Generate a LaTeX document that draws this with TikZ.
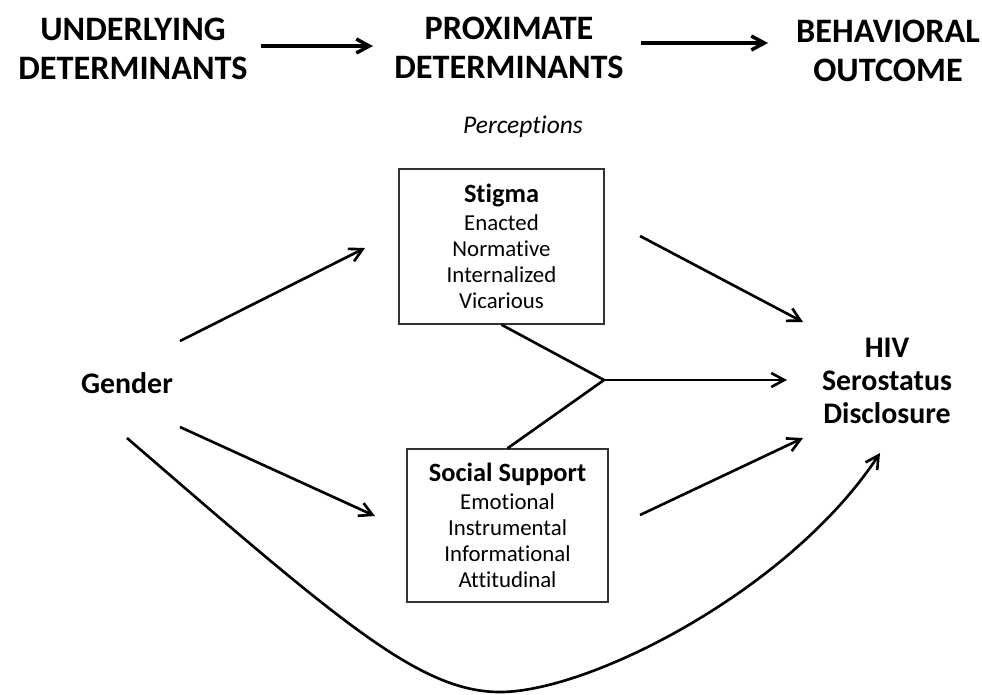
\documentclass[tikz,border=0pt]{standalone}
\usepackage{fontspec}
\setmainfont{Carlito}[Ligatures=NoCommon, Contextuals=NoAlternate]
\usepackage{tikz}
\usetikzlibrary{arrows.meta,positioning}

\begin{document}
\begin{tikzpicture}[
  x=0.02cm, y=-0.02cm,
  head/.style={font=\fontsize{19.5}{22}\selectfont\bfseries, align=center},
  lbl/.style={font=\fontsize{17}{19}\selectfont\bfseries, align=center},
  box/.style={draw=black!80, line width=0.8pt, minimum width=4.1cm, minimum height=3.1cm,
    align=center, inner sep=2pt, font=\fontsize{13}{14.8}\selectfont},
  arr/.style={-{Straight Barb[length=2.6mm,width=2.8mm]}, line width=1.5pt},
  bigarr/.style={arr, line width=2pt}
]
  \useasboundingbox (0,0) rectangle (982,694);

  % column headings
  \node[head] (under) at (133,49) {UNDERLYING\\DETERMINANTS};
  \node[head] (prox)  at (509,48) {PROXIMATE\\DETERMINANTS};
  \node[head] (behav) at (888,51) {BEHAVIORAL\\OUTCOME};
  \draw[bigarr] ([shift={(128,-3)}]under.center) -- ([shift={(-136,-2)}]prox.center);
  \draw[bigarr] ([shift={(132,-5)}]prox.center) -- ([shift={(-120,-8)}]behav.center);

  \node[font=\fontsize{14.5}{17}\selectfont\itshape] (perc) at (523,127) {Perceptions};

  % mediators
  \node[box] (stigma) at (501.5,246.5) {{\fontsize{15}{17}\selectfont\bfseries Stigma}\\[1pt]
    Enacted\\Normative\\Internalized\\Vicarious};
  \node[box, minimum width=4.02cm, minimum height=3.06cm] (social) at (507.5,525.5)
    {{\fontsize{15}{17}\selectfont\bfseries Social Support}\\[1pt]
    Emotional\\Instrumental\\Informational\\Attitudinal};

  \node[lbl] (gender) at (127,383) {Gender};
  \node[lbl] (hiv) at (887,381) {HIV\\Serostatus\\Disclosure};

  % paths
  \draw[arr] ([shift={(53,-42)}]gender.center) -- ([shift={(-136.5,1.5)}]stigma.center);
  \draw[arr] ([shift={(53,44)}]gender.center) -- ([shift={(-132.5,-9.5)}]social.center);
  \draw[arr] ([shift={(138.5,-10.5)}]stigma.center) -- ([shift={(-84,-59)}]hiv.center);
  \draw[arr] ([shift={(132.5,-10.5)}]social.center) -- ([shift={(-84,57)}]hiv.center);

  \coordinate (fork) at (604,380);
  \draw[line width=1.5pt] (stigma.south) -- (fork) -- (social.north);
  \draw[arr] (fork) -- ([shift={(-100,-1)}]hiv.center);

  % direct effect
  \coordinate (dip) at (500,692);
  \draw[arr] ([shift={(0,55)}]gender.center) .. controls (340,622) and (420,692) .. (dip)
    .. controls (590,692) and (790,590) .. ([shift={(-7,72)}]hiv.center);
\end{tikzpicture}
\end{document}
